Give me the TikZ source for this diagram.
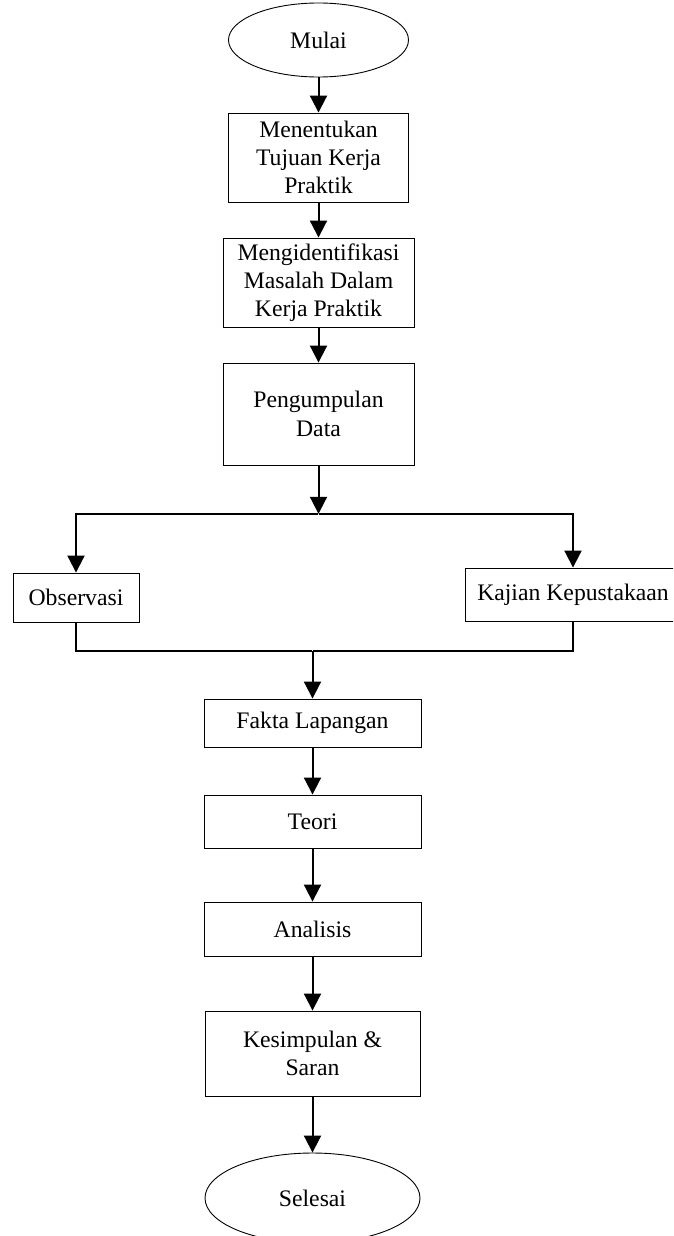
\documentclass[tikz,border=0pt]{standalone}
\usepackage{fontspec}
\setmainfont{Liberation Serif}
\usetikzlibrary{shapes.geometric,arrows.meta}
\begin{document}
\begin{tikzpicture}[x=1pt, y=-1pt,
                    font=\fontsize{23.7}{28.3}\selectfont,
                    rect/.style={draw, rectangle, line width=0.9pt, inner sep=0mm, align=center},
                    term/.style={draw, ellipse, line width=0.9pt, inner sep=0mm, align=center},
                    arrow/.style={draw, line width=2pt, -{Triangle[width=17pt,length=17pt]}},
                    line/.style={draw, line width=2pt},
                    coord/.style={minimum size=0, inner sep=0}]
  \useasboundingbox (0,0) rectangle (673,1236);
  \clip (0,0) rectangle (673,1236);
  \node(mulai)[term, minimum width=180pt, minimum height=74pt] at (318.5,40){Mulai};
  \node(tujuan)[rect, minimum width=180pt, minimum height=89pt] at (318.5,157.5){Menentukan\\Tujuan Kerja\\Praktik};
  \node(identifikasi)[rect, minimum width=191pt, minimum height=89pt] at (318.5,282.5){Mengidentifikasi\\Masalah Dalam\\Kerja Praktik};
  \node(pengumpulan)[rect, minimum width=191pt, minimum height=102pt] at (318.5,414){Pengumpulan\\Data};
  \node(split)[coord] at (318.5,514){};
  \node(observasi)[rect, minimum width=126pt, minimum height=49pt] at (76,597.5){Observasi};
  \node(kajian)[rect, minimum width=216pt, minimum height=53pt] at (573,594.5){Kajian Kepustakaan};
  \node(join)[coord] at (312.5,651){};
  \node(fakta)[rect, minimum width=217pt, minimum height=48pt] at (312.5,723){Fakta Lapangan};
  \node(teori)[rect, minimum width=217pt, minimum height=53pt] at (312.5,821.5){Teori};
  \node(analisis)[rect, minimum width=217pt, minimum height=54pt] at (312.5,929){Analisis};
  \node(kesimpulan)[rect, minimum width=215pt, minimum height=85pt] at (312.5,1053.5){Kesimpulan \&\\Saran};
  \node(selesai)[term, minimum width=215pt, minimum height=90pt] at (312.5,1198){Selesai};
  \draw[arrow] (mulai) -- (tujuan);
  \draw[arrow] (tujuan) -- (identifikasi);
  \draw[arrow] (identifikasi) -- (pengumpulan);
  \draw[arrow] (pengumpulan) -- (split);
  \draw[arrow] (split) -| (observasi);
  \draw[arrow] (split) -| (kajian);
  \draw[line] (observasi) |- (join);
  \draw[line] (kajian) |- (join);
  \draw[arrow] (join) -- (fakta);
  \draw[arrow] (fakta) -- (teori);
  \draw[arrow] (teori) -- (analisis);
  \draw[arrow] (analisis) -- (kesimpulan);
  \draw[arrow] (kesimpulan) -- (selesai);
\end{tikzpicture}
\end{document}
